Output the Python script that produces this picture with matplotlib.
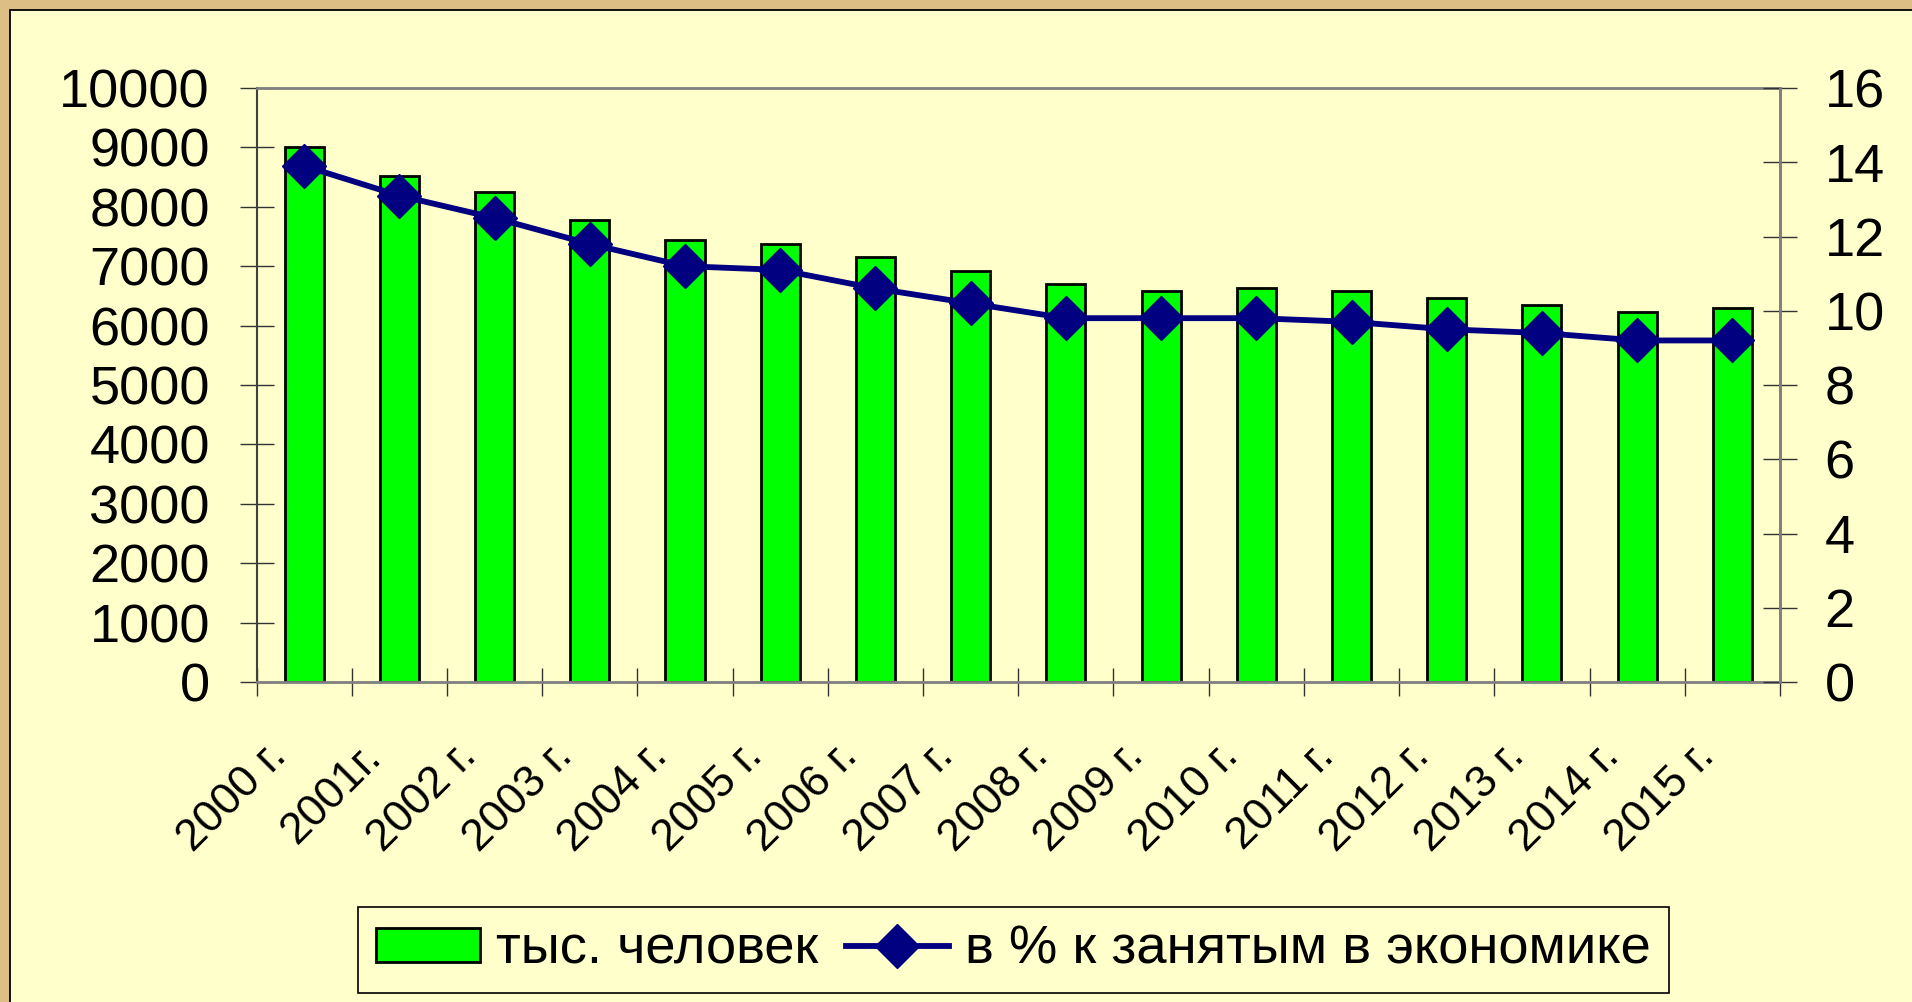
import matplotlib
matplotlib.use("Agg")
import matplotlib.pyplot as plt
import matplotlib.transforms as mtransforms
from matplotlib.patches import Rectangle
import numpy as np

plt.rcParams['font.family'] = ['Liberation Sans', 'DejaVu Sans']

# ---- data ----
years = ["2000 г.", "2001г.", "2002 г.", "2003 г.", "2004 г.", "2005 г.", "2006 г.",
         "2007 г.", "2008 г.", "2009 г.", "2010 г.", "2011 г.", "2012 г.", "2013 г.",
         "2014 г.", "2015 г."]
thousands = [9000, 8520, 8245, 7780, 7440, 7375, 7150, 6915, 6695, 6580, 6640, 6580,
             6465, 6355, 6235, 6295]
percent = [13.9, 13.1, 12.5, 11.8, 11.2, 11.1, 10.6, 10.2, 9.8, 9.8, 9.8, 9.7,
           9.5, 9.4, 9.2, 9.2]
left_ticks = list(range(0, 10001, 1000))
right_ticks = list(range(0, 17, 2))
bar_label = "тыс. человек"
line_label = "в % к занятым в экономике"

W, H, DPI = 1912, 1002, 100
fig = plt.figure(figsize=(W / DPI, H / DPI), dpi=DPI)
fig.patch.set_facecolor('#DDBF86')

panel_bg = '#FFFFCC'
fig.add_artist(Rectangle((10 / W, -0.05), 1.2, (H - 10) / H + 0.05,
                         transform=fig.transFigure, facecolor=panel_bg,
                         edgecolor='black', linewidth=1.3, zorder=-5))

ax = fig.add_axes([256.5 / W, 1 - 682 / H, (1780 - 256.5) / W, (682 - 88) / H])
ax.set_facecolor(panel_bg)
x = np.arange(len(years))
bars = ax.bar(x, thousands, width=0.41, color='#00FF00', edgecolor='black',
              linewidth=2.0, label=bar_label, zorder=2)
ax.set_xlim(-0.5, len(years) - 0.5)
ax.set_ylim(0, 10000)
ax.set_yticks(left_ticks)
ax.tick_params(axis='y', direction='inout', length=25, width=1.0, color='#333333',
               labelsize=39, pad=21)

# category boundary ticks (minor) and centered labels (major)
ax.set_xticks(np.arange(len(years) + 1) - 0.5, minor=True)
ax.set_xticks(x)
ax.set_xticklabels(years)
ax.tick_params(axis='x', which='minor', direction='inout', length=20, width=1.0,
               color='#333333')
ax.tick_params(axis='x', which='major', length=0, labelsize=32, pad=49)
offset = mtransforms.ScaledTranslation(-24 / DPI, 0, fig.dpi_scale_trans)
for lab in ax.get_xticklabels():
    lab.set_rotation(45)
    lab.set_ha('right')
    lab.set_va('center')
    lab.set_rotation_mode('anchor')
    lab.set_transform(lab.get_transform() + offset)

for side in ['top', 'bottom', 'right']:
    ax.spines[side].set_color('#808080')
    ax.spines[side].set_linewidth(2.0)
ax.spines['left'].set_color('#404040')
ax.spines['left'].set_linewidth(1.5)

ax2 = ax.twinx()
ax2.patch.set_visible(False)
line, = ax2.plot(x, percent, color='#000080', linewidth=4.2, marker='D',
                 markersize=22, markerfacecolor='#000080',
                 markeredgecolor='#000080', label=line_label, zorder=3)
ax2.set_ylim(0, 16)
ax2.set_yticks(right_ticks)
ax2.tick_params(axis='y', direction='inout', length=25, width=1.0, color='#333333',
                labelsize=39, pad=19.5)
for side in ['top', 'bottom', 'left']:
    ax2.spines[side].set_visible(False)
ax2.spines['right'].set_color('#808080')
ax2.spines['right'].set_linewidth(2.0)

leg = fig.legend([bars, line], [bar_label, line_label], loc='center',
                 bbox_to_anchor=(1013.8 / W, 1 - 950 / H), ncol=2, fontsize=39.2,
                 frameon=True, fancybox=False, shadow=False, framealpha=1,
                 facecolor=panel_bg, edgecolor='black', handlelength=1.9,
                 handleheight=0.6, handletextpad=0.3, columnspacing=0.5,
                 borderpad=0.33, borderaxespad=0)
leg.get_frame().set_linewidth(1.2)

fig.savefig('out.png', dpi=DPI, facecolor=fig.get_facecolor())
